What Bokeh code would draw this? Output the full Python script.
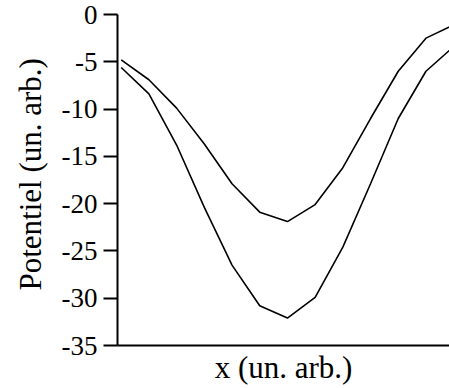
from bokeh.plotting import figure
from bokeh.models import Range1d, FixedTicker, Title
from bokeh.embed import file_html
from bokeh.resources import INLINE

# Data
x_vals = list(range(13))
upper = [-4.8, -6.9, -9.9, -13.7, -17.9, -20.9, -21.9, -20.1, -16.2, -11.0, -6.0, -2.5, -1.1]
lower = [-5.6, -8.4, -13.8, -20.4, -26.5, -30.8, -32.1, -29.9, -24.6, -17.9, -11.0, -6.0, -3.4]
y_ticks = [0, -5, -10, -15, -20, -25, -30, -35]
y_tick_labels = ["0", "-5", "-10", "-15", "-20", "-25", "-30", "-35"]
x_label = "x (un. arb.)"
y_label = "Potentiel (un. arb.)"

FONT = "Liberation Serif"

p = figure(width=449, height=388, output_backend="svg", toolbar_location=None,
           x_range=Range1d(-0.134, 11.85), y_range=Range1d(-35, 0),
           min_border_left=117, min_border_right=0, min_border_top=14, min_border_bottom=43)
p.outline_line_color = None
p.grid.visible = False
p.background_fill_color = "white"
p.border_fill_color = "white"

p.line(x_vals, upper, line_color="black", line_width=1.6)
p.line(x_vals, lower, line_color="black", line_width=1.6)

# y axis
ya = p.yaxis[0]
ya.ticker = FixedTicker(ticks=y_ticks)
ya.major_label_overrides = {t: l for t, l in zip(y_ticks, y_tick_labels)}
ya.minor_tick_line_color = None
ya.major_tick_in = 0
ya.major_tick_out = 14
ya.major_tick_line_width = 2
ya.major_tick_line_color = "black"
ya.axis_line_width = 2
ya.axis_line_color = "black"
ya.major_label_standoff = 6
ya.major_label_text_font = FONT
ya.major_label_text_font_size = "27px"
ya.major_label_text_color = "black"

# y axis title (placed as a left title so it can be shifted like the reference)
ytitle = Title(text=y_label, align="left", offset=55, standoff=18,
               vertical_align="top",
               text_font=FONT, text_font_size="31px", text_font_style="normal",
               text_color="black")
p.add_layout(ytitle, "left")

# x axis
xa = p.xaxis[0]
xa.ticker = FixedTicker(ticks=[])
xa.minor_tick_line_color = None
xa.major_tick_in = 0
xa.major_tick_out = 0
xa.major_label_standoff = 0
xa.axis_line_width = 2
xa.axis_line_color = "black"
xa.axis_label = x_label
xa.axis_label_text_font = FONT
xa.axis_label_text_font_size = "31px"
xa.axis_label_text_font_style = "normal"
xa.axis_label_text_color = "black"
xa.axis_label_standoff = 4

open("out.html", "w").write(file_html(p, INLINE))
